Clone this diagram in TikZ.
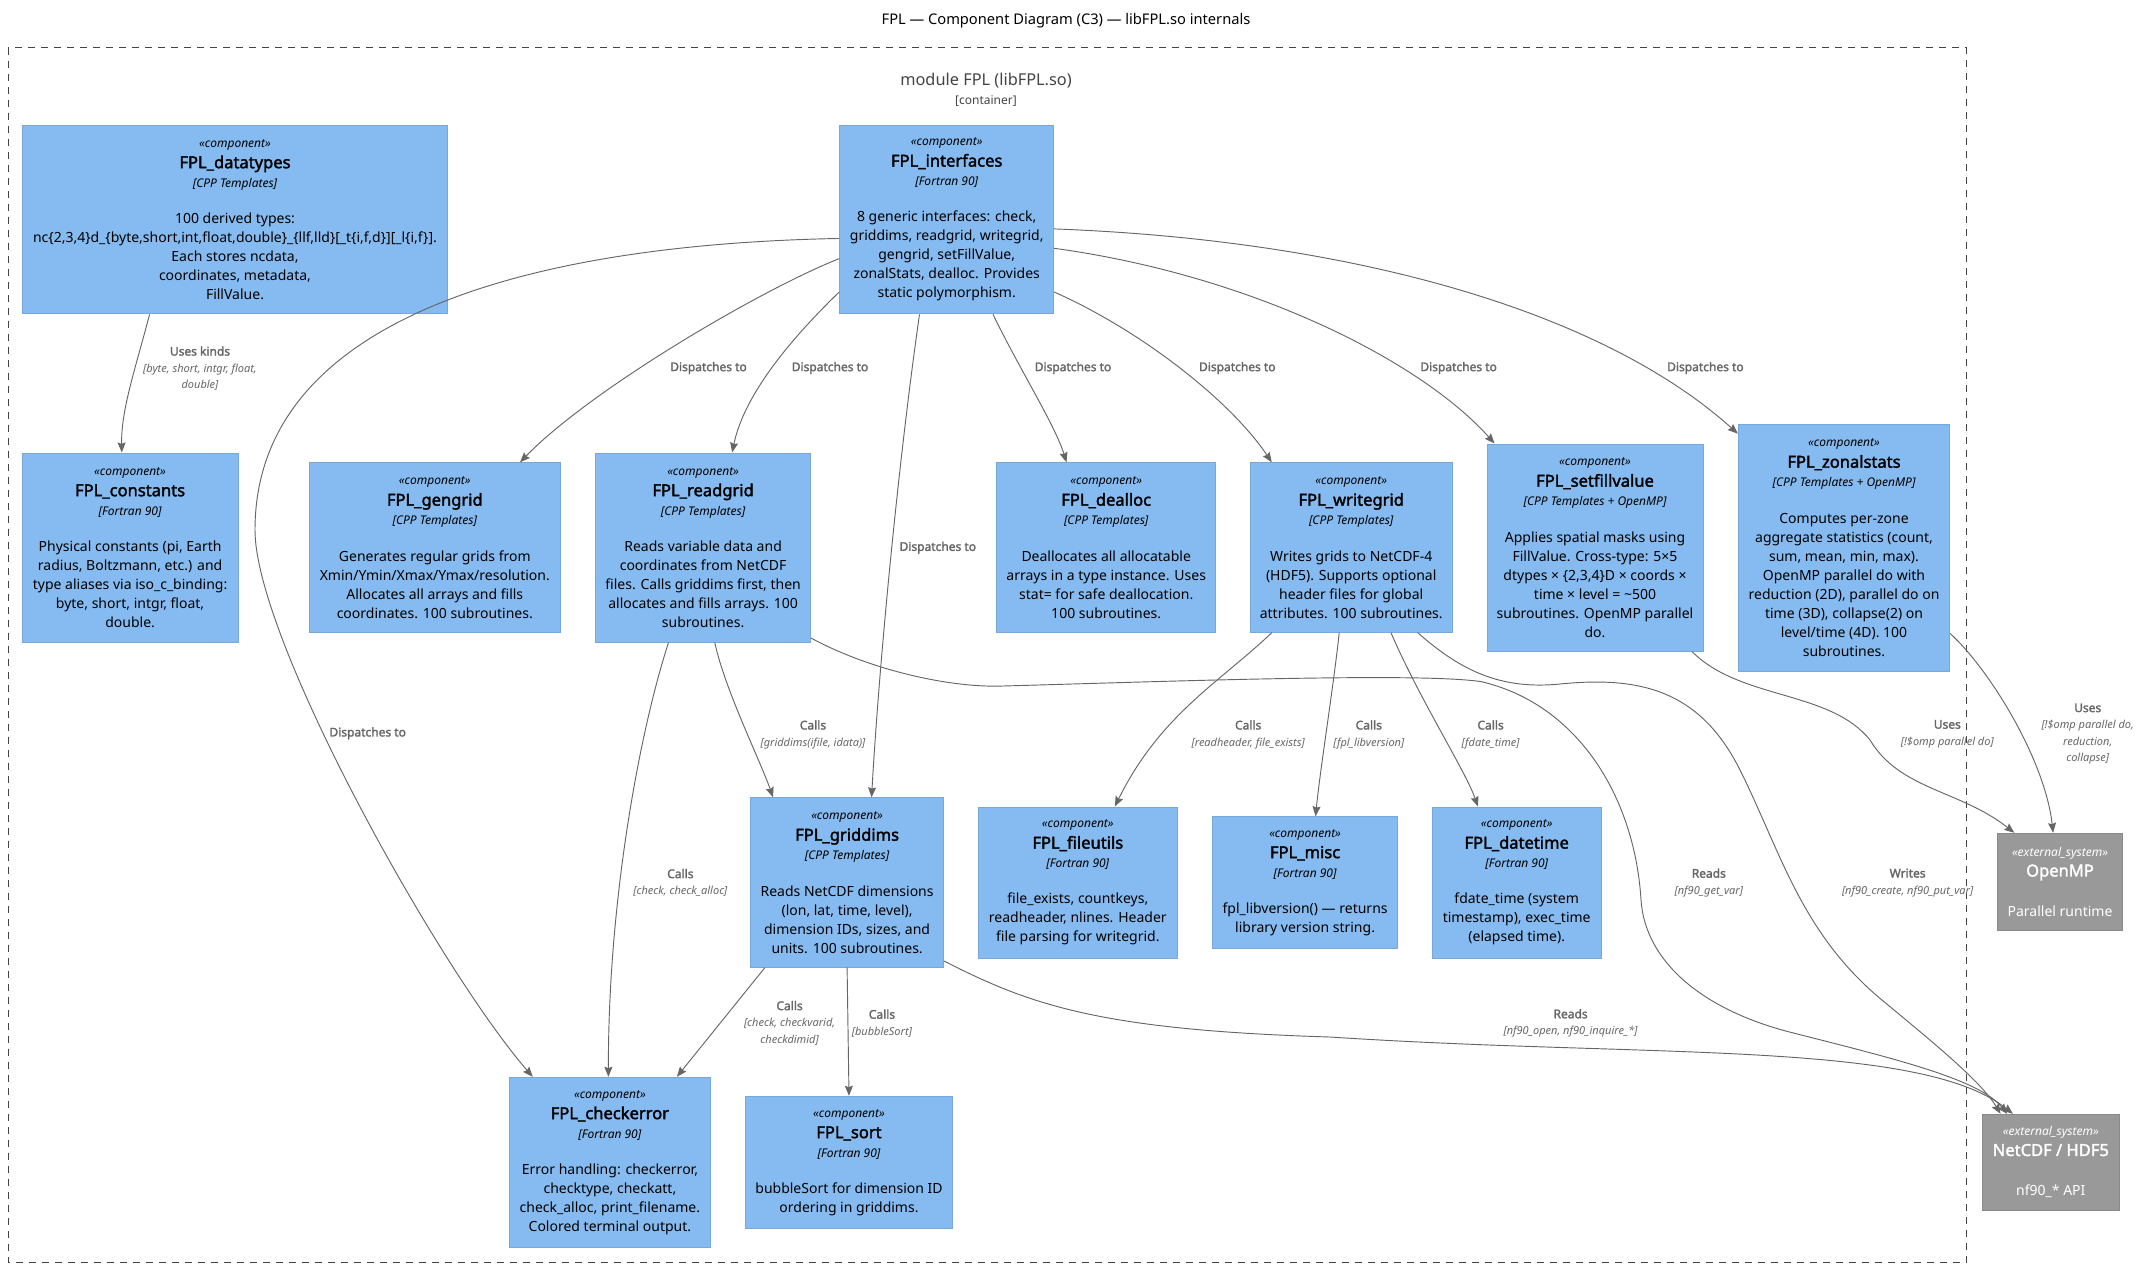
\documentclass[tikz,border=0pt]{standalone}
\usepackage{fontspec}
\setmainfont{Noto Sans}[AutoFakeBold=2]
\usetikzlibrary{arrows.meta}

\definecolor{compfill}{HTML}{85BBF0}
\definecolor{compline}{HTML}{78A8D8}
\definecolor{extfill}{HTML}{999999}
\definecolor{extline}{HTML}{8A8A8A}
\definecolor{relgray}{HTML}{666666}
\definecolor{boundgray}{HTML}{444444}

\newcommand{\stereo}[1]{{\fontsize{9}{11}\selectfont\itshape #1}}
\newcommand{\cname}[1]{{\fontsize{12.4}{14}\selectfont\bfseries #1}}
\newcommand{\cbody}[3]{\stereo{«component»}\\[1.5pt]\cname{#1}\\\stereo{[#2]}\\[13pt]#3}
\newcommand{\xbody}[2]{\stereo{«external\_system»}\\[1pt]\cname{#1}\\[15.75pt]#2}
\newcommand{\tech}[1]{{\fontsize{8.25}{10}\selectfont\mdseries\itshape #1}}

\tikzset{
  comp/.style={draw=compline, fill=compfill, line width=0.75pt, align=center, inner sep=0pt,
    font=\fontsize{10.5}{14.25}\selectfont},
  ext/.style={comp, draw=extline, fill=extfill, text=white},
  boxsize/.style 2 args={minimum width=#1*0.75pt, minimum height=#2*0.75pt},
  rel/.style={draw=relgray, line width=0.7pt, -{Stealth[length=7.5pt, width=6pt, inset=1pt]}},
  note/.style={align=center, inner sep=0pt, text=relgray, font=\fontsize{9}{12.45}\selectfont\bfseries}
}

\begin{document}
\begin{tikzpicture}[x=0.75pt, y=-0.75pt]
  \useasboundingbox (0,0) rectangle (2145,1268);
  \node[font=\fontsize{11}{13}\selectfont] (title) at (1066,20.5) {FPL — Component Diagram (C3) — libFPL.so internals};
  \draw[boundgray, line width=0.75pt, dash pattern=on 5.25pt off 4.5pt] (8,47.5) rectangle (1966,1262);
  \node[text=boundgray, align=center, font=\fontsize{12.25}{14}\selectfont] (module) at (986,90) {module FPL (libFPL.so)\\{\fontsize{9}{11}\selectfont [container]}};

  \node[comp, boxsize={425.2}{188.7}] (datatypes) at (235,219.5) {\cbody{FPL\_datatypes}{CPP Templates}{100 derived types:\\nc\{2,3,4\}d\_\{byte,short,int,float,double\}\_\{llf,lld\}[\_t\{i,f,d\}][\_l\{i,f\}].\\Each stores ncdata,\\coordinates, metadata,\\FillValue.}};
  \node[comp, boxsize={214}{188.7}] (interfaces) at (946.7,219.5) {\cbody{FPL\_interfaces}{Fortran 90}{8 generic interfaces: check,\\griddims, readgrid, writegrid,\\gengrid, setFillValue,\\zonalStats, dealloc. Provides\\static polymorphism.}};
  \node[comp, boxsize={215.8}{189}] (constants) at (130.1,547.5) {\cbody{FPL\_constants}{Fortran 90}{Physical constants (pi, Earth\\radius, Boltzmann, etc.) and\\type aliases via iso\_c\_binding:\\byte, short, intgr, float,\\double.}};
  \node[comp, boxsize={251.5}{169.4}] (gengrid) at (434.8,547.5) {\cbody{FPL\_gengrid}{CPP Templates}{Generates regular grids from\\Xmin/Ymin/Xmax/Ymax/resolution.\\Allocates all arrays and fills\\coordinates. 100 subroutines.}};
  \node[comp, boxsize={214.6}{189}] (readgrid) at (703.1,547.5) {\cbody{FPL\_readgrid}{CPP Templates}{Reads variable data and\\coordinates from NetCDF\\files. Calls griddims first, then\\allocates and fills arrays. 100\\subroutines.}};
  \node[comp, boxsize={219.5}{169.4}] (dealloc) at (1106.2,547.5) {\cbody{FPL\_dealloc}{CPP Templates}{Deallocates all allocatable\\arrays in a type instance. Uses\\stat= for safe deallocation.\\100 subroutines.}};
  \node[comp, boxsize={202.3}{169.4}] (writegrid) at (1351.2,547.5) {\cbody{FPL\_writegrid}{CPP Templates}{Writes grids to NetCDF-4\\(HDF5). Supports optional\\header files for global\\attributes. 100 subroutines.}};
  \node[comp, boxsize={216}{207}] (setfill) at (1595,547.5) {\cbody{FPL\_setfillvalue}{CPP Templates + OpenMP}{Applies spatial masks using\\FillValue. Cross-type: 5×5\\dtypes × \{2,3,4\}D × coords ×\\time × level = \textasciitilde500\\subroutines. OpenMP parallel\\do.}};
  \node[comp, boxsize={211.4}{247}] (zonal) at (1844,547.5) {\cbody{FPL\_zonalstats}{CPP Templates + OpenMP}{Computes per-zone\\aggregate statistics (count,\\sum, mean, min, max).\\OpenMP parallel do with\\reduction (2D), parallel do on\\time (3D), collapse(2) on\\level/time (4D). 100\\subroutines.}};
  \node[comp, boxsize={192.8}{169.4}] (griddims) at (847.1,882.5) {\cbody{FPL\_griddims}{CPP Templates}{Reads NetCDF dimensions\\(lon, lat, time, level),\\dimension IDs, sizes, and\\units. 100 subroutines.}};
  \node[comp, boxsize={198.8}{151}] (fileutils) at (1077.8,882.5) {\cbody{FPL\_fileutils}{Fortran 90}{file\_exists, countkeys,\\readheader, nlines. Header\\file parsing for writegrid.}};
  \node[comp, boxsize={184.8}{131.4}] (misc) at (1305.1,882.5) {\cbody{FPL\_misc}{Fortran 90}{fpl\_libversion() — returns\\library version string.}};
  \node[comp, boxsize={168.6}{151}] (datetime) at (1516.7,882.5) {\cbody{FPL\_datetime}{Fortran 90}{fdate\_time (system\\timestamp), exec\_time\\(elapsed time).}};
  \node[comp, boxsize={201}{170.4}] (checkerr) at (609.9,1162.5) {\cbody{FPL\_checkerror}{Fortran 90}{Error handling: checkerror,\\checktype, checkatt,\\check\_alloc, print\_filename.\\Colored terminal output.}};
  \node[comp, boxsize={206.8}{132.4}] (sort) at (849,1162.5) {\cbody{FPL\_sort}{Fortran 90}{bubbleSort for dimension ID\\ordering in griddims.}};
  \node[ext, boxsize={125.5}{97}] (openmp) at (2060,881.8) {\xbody{OpenMP}{Parallel runtime}};
  \node[ext, boxsize={137.6}{96}] (netcdf) at (2050.8,1162.3) {\xbody{NetCDF / HDF5}{nf90\_* API}};

  \draw[rel] (datatypes.228.5) .. controls (135,370) and (121,410) .. (constants.95.5);
  \draw[rel] (interfaces.200) .. controls (760,290) and (590,390) .. (gengrid.45);
  \draw[rel] (interfaces.214.2) .. controls (800,330) and (745,390) .. (readgrid.73.4);
  \draw[rel] (interfaces.254.4) .. controls (900,450) and (880,650) .. (griddims.74.6);
  \draw[rel] (interfaces.190) .. controls (500,245) and (255,330) .. (255,530) .. controls (255,640) and (440,970) .. (checkerr.132.1);
  \draw[rel] (interfaces.296) .. controls (1020,370) and (1055,425) .. (dealloc.115.8);
  \draw[rel] (interfaces.326.9) .. controls (1140,330) and (1230,400) .. (writegrid.133.2);
  \draw[rel] (interfaces.345.6) .. controls (1250,275) and (1420,360) .. (setfill.134);
  \draw[rel] (interfaces.355) .. controls (1350,240) and (1600,310) .. (zonal.133.4);
  \draw[rel] (readgrid.277.5) .. controls (725,690) and (760,760) .. (griddims.131.3);
  \draw[rel] (readgrid.250.4) .. controls (640,730) and (608,900) .. (checkerr.91.5);
  \draw[rel] (readgrid.320) .. controls (870,670) and (950,688) .. (1003,686) .. controls (1150,682) and (1420,672) .. (1481.5,681.7) .. controls (1580,705) and (1635,800) .. (1641,900) .. controls (1645,960) and (1700,1010) .. (1794.6,1033.3) .. controls (1900,1060) and (1980,1080) .. (netcdf.132.4);
  \draw[rel] (writegrid.227.8) .. controls (1220,682) and (1160,715) .. (fileutils.64.6);
  \draw[rel] (writegrid.262.1) .. controls (1333,690) and (1320,770) .. (misc.81.3);
  \draw[rel] (writegrid.295.7) .. controls (1420,700) and (1465,770) .. (datetime.117.2);
  \draw[rel] (writegrid.308.1) .. controls (1460,670) and (1500,690) .. (1560,684) .. controls (1640,676) and (1700,690) .. (1740,770) .. controls (1780,850) and (1800,930) .. (1878,996.7) .. controls (1930,1040) and (1980,1080) .. (netcdf.136.6);
  \draw[rel] (griddims.321.6) .. controls (1030,1005) and (1100,1030) .. (1330,1037) .. controls (1650,1058) and (1920,1040) .. (netcdf.128.2);
  \draw[rel] (griddims.226) -- (checkerr.52.2);
  \draw[rel] (griddims.south) -- (sort.north);
  \draw[rel] (setfill.313) .. controls (1740,700) and (1830,690) .. (1870,740) .. controls (1900,790) and (1960,790) .. (openmp.133.9);
  \draw[rel] (zonal.321.2) .. controls (1990,670) and (2045,760) .. (openmp.98.6);

  \foreach \x/\y [count=\i] in {708.5/368, 830/368, 1073/368, 1237.3/368, 1458.6/368, 1705.4/368, 937.8/547.7, 367.7/733.3}
    \node[note] (disp\i) at (\x,\y) {Dispatches to};
  \node[note] (kinds) at (200,368.5) {Uses kinds\\\tech{[byte, short, intgr, float,}\\\tech{double]}};
  \node[note] (callgd) at (813,734.5) {Calls\\\tech{[griddims(ifile, idata)]}};
  \node[note] (callrc) at (680.4,882.7) {Calls\\\tech{[check, check\_alloc]}};
  \node[note] (readrg) at (1708.8,882.7) {Reads\\\tech{[nf90\_get\_var]}};
  \node[note] (callfu) at (1248.2,734.5) {Calls\\\tech{[readheader, file\_exists]}};
  \node[note] (callmi) at (1368.8,734.5) {Calls\\\tech{[fpl\_libversion]}};
  \node[note] (calldt) at (1490.6,734.5) {Calls\\\tech{[fdate\_time]}};
  \node[note] (writewg) at (1907.6,882.7) {Writes\\\tech{[nf90\_create, nf90\_put\_var]}};
  \node[note] (readgd) at (1570.6,1023.3) {Reads\\\tech{[nf90\_open, nf90\_inquire\_*]}};
  \node[note] (callgc) at (789.6,1023) {Calls\\\tech{[check, checkvarid,}\\\tech{checkdimid]}};
  \node[note] (callso) at (882,1023.3) {Calls\\\tech{[bubbleSort]}};
  \node[note] (usessf) at (1947.3,734) {Uses\\\tech{[!\$omp parallel do]}};
  \node[note] (useszs) at (2087.7,734) {Uses\\\tech{[!\$omp parallel do,}\\\tech{reduction,}\\\tech{collapse]}};
\end{tikzpicture}
\end{document}
